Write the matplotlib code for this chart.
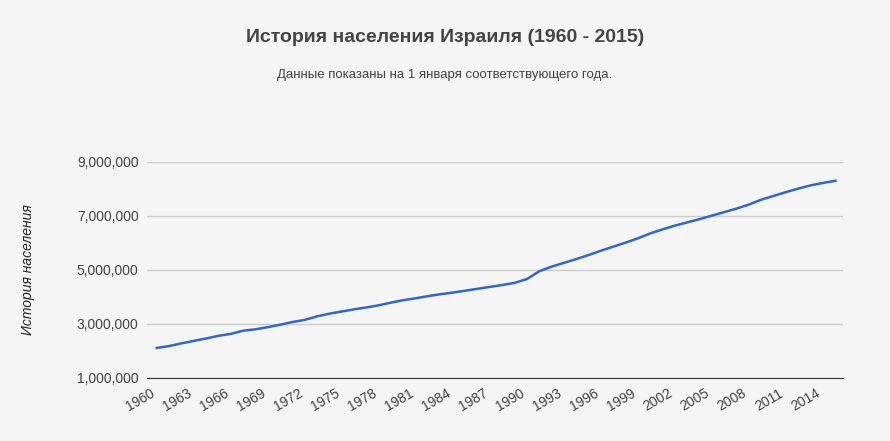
import matplotlib
matplotlib.use('Agg')
import matplotlib.pyplot as plt
from matplotlib.ticker import FuncFormatter

plt.rcParams['font.family'] = 'Liberation Sans'

years = list(range(1960, 2016))
population_m = [2.11, 2.18, 2.28, 2.37, 2.46, 2.56, 2.63, 2.75, 2.80, 2.88,
                2.97, 3.07, 3.15, 3.28, 3.38, 3.46, 3.54, 3.61, 3.69, 3.79,
                3.88, 3.95, 4.03, 4.10, 4.16, 4.23, 4.30, 4.37, 4.44, 4.52,
                4.66, 4.95, 5.12, 5.26, 5.40, 5.55, 5.71, 5.86, 6.01, 6.17,
                6.35, 6.50, 6.64, 6.76, 6.88, 7.01, 7.14, 7.27, 7.42, 7.60,
                7.74, 7.88, 8.01, 8.13, 8.22, 8.30]
population = [v * 1e6 for v in population_m]
xticks = list(range(1960, 2015, 3))
yticks = [1e6, 3e6, 5e6, 7e6, 9e6]

bg = '#f5f5f5'
fig = plt.figure(figsize=(8.9, 4.41), dpi=100, facecolor=bg)
ax = fig.add_axes([0.165, 0.143, 0.782, 0.49], facecolor=bg)

ax.plot(years, population, color='#3366cc', lw=1.8)
ax.set_xlim(1959.2, 2015.6)
ax.set_ylim(1e6, 9e6)
ax.set_yticks(yticks)
ax.yaxis.set_major_formatter(FuncFormatter(lambda v, p: f'{int(v):,}'))
ax.set_xticks(xticks)
ax.set_xticklabels([str(y) for y in xticks], rotation=30, ha='right')
ax.grid(axis='y', color='#cccccc', lw=1)
ax.set_axisbelow(True)
for s in ['top', 'right', 'left']:
    ax.spines[s].set_visible(False)
ax.spines['bottom'].set_color('#333333')
ax.tick_params(length=0, labelsize=10, colors='#444444', pad=6)
ax.set_ylabel('История населения', fontstyle='italic', fontsize=10,
              color='#222222', labelpad=30)

fig.text(0.5, 0.915, 'История населения Израиля (1960 - 2015)', ha='center',
         va='center', fontsize=14, fontweight='bold', color='#444444')
fig.text(0.5, 0.83, 'Данные показаны на 1 января соответствующего года.',
         ha='center', va='center', fontsize=9.5, color='#444444')

fig.savefig('out.png', dpi=100, facecolor=bg)
